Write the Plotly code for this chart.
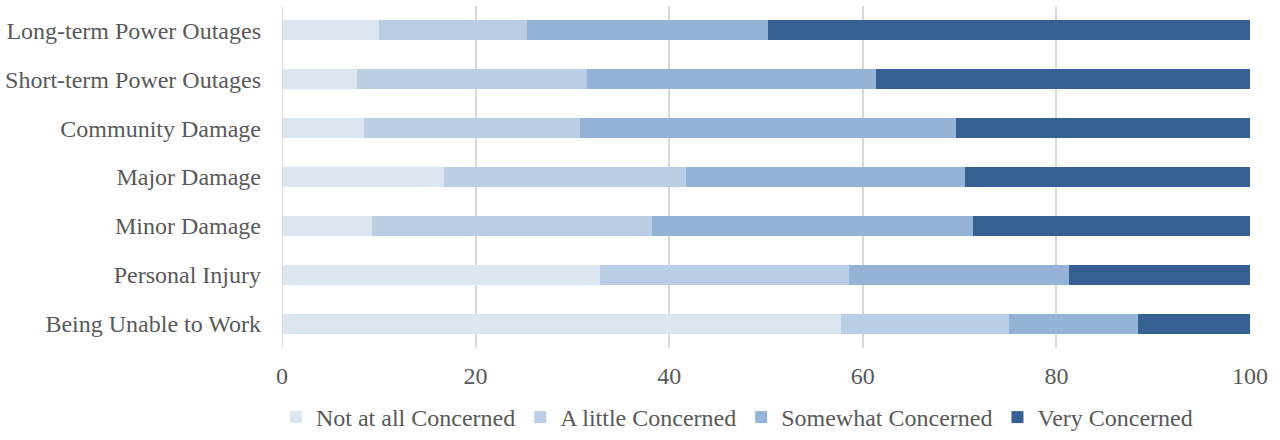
import plotly.graph_objects as go

categories = ["Long-term Power Outages", "Short-term Power Outages", "Community Damage",
              "Major Damage", "Minor Damage", "Personal Injury", "Being Unable to Work"]
series_names = ["Not at all Concerned", "A little Concerned", "Somewhat Concerned", "Very Concerned"]
not_at_all = [10.0, 7.7, 8.5, 16.7, 9.3, 32.8, 57.7]
a_little = [15.3, 23.8, 22.3, 25.0, 28.9, 25.8, 17.4]
somewhat = [24.9, 29.9, 38.8, 28.9, 33.2, 22.7, 13.3]
very = [49.8, 38.6, 30.4, 29.4, 28.6, 18.7, 11.6]
colors = ["#DCE6F1", "#B9CDE5", "#95B3D7", "#366092"]

fig = go.Figure()
for name, vals, col in zip(series_names, [not_at_all, a_little, somewhat, very], colors):
    fig.add_trace(go.Bar(
        y=categories, x=vals, name=name, orientation="h",
        marker=dict(color=col, line=dict(width=0)),
    ))

font_family = "Liberation Serif, Times New Roman, serif"
H = 440
top, bottom_plot = 6, 348
fig.update_layout(
    barmode="stack",
    width=1280, height=H,
    margin=dict(l=282, r=30, t=top, b=0),
    plot_bgcolor="white", paper_bgcolor="white",
    bargap=0.59,
    font=dict(family=font_family, size=24, color="#595959"),
    xaxis=dict(range=[0, 100], dtick=20, showgrid=True, gridcolor="#D9D9D9", gridwidth=1.5,
               zeroline=False, showline=False, ticks="", tickfont=dict(size=24, color="#595959"),
               fixedrange=True, ticklabelstandoff=11),
    yaxis=dict(autorange="reversed", showgrid=False, zeroline=False, showline=False, ticks="",
               ticklabelstandoff=20, tickfont=dict(size=24, color="#595959"),
               domain=[(H - bottom_plot) / (H - top), 1]),
    legend=dict(orientation="h", x=0.47, xanchor="center", y=0, yanchor="bottom",
                font=dict(size=24, color="#595959"), traceorder="normal",
                itemwidth=30, tracegroupgap=0),
    showlegend=True,
)
fig.add_shape(type="line", xref="x", yref="y domain", x0=0, x1=0, y0=0, y1=1,
              line=dict(color="#D9D9D9", width=1.5))

fig.write_html("out.html")
